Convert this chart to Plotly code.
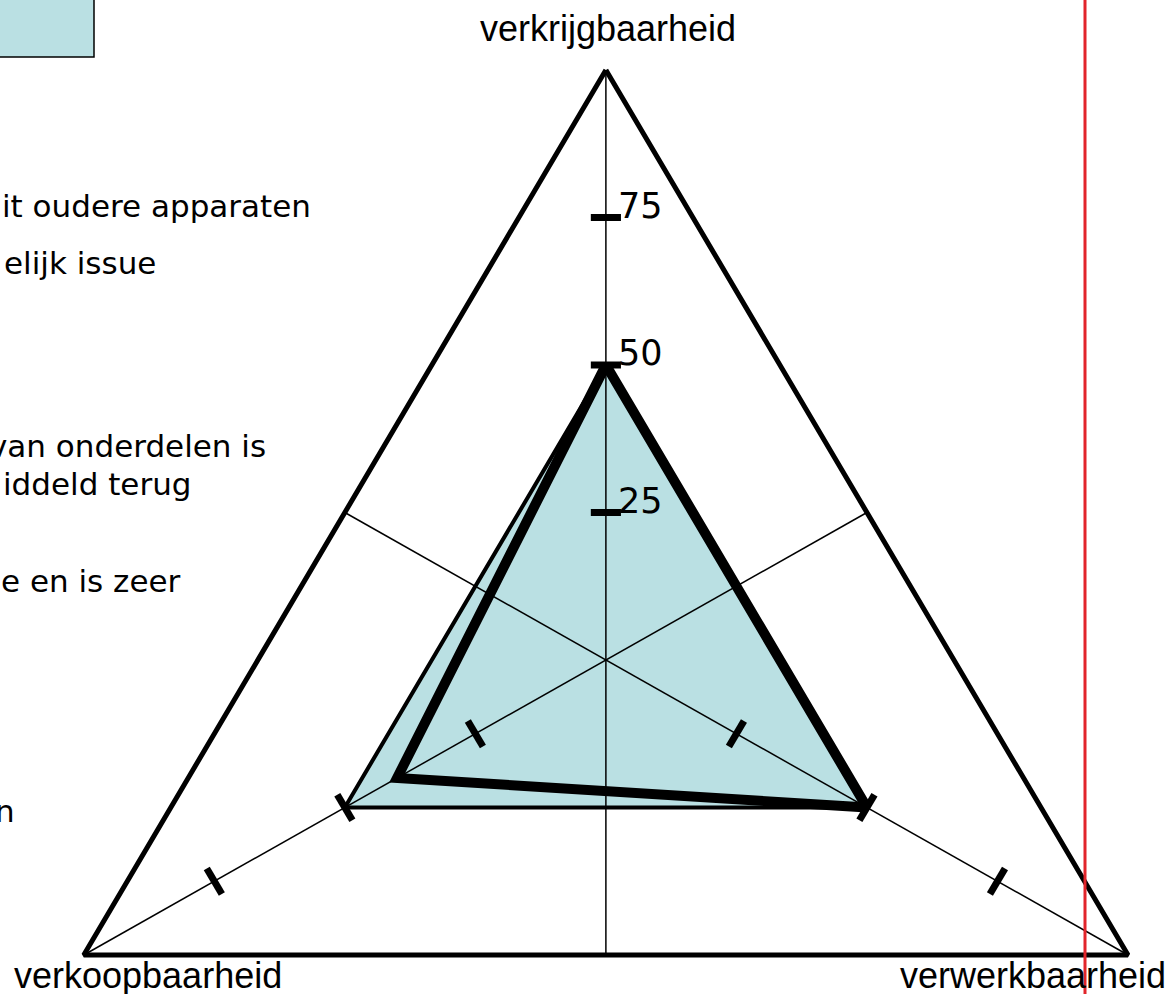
import numpy as np
import plotly.graph_objects as go

# three axes of the triangle chart, clockwise from the top
axis_names = ["verkrijgbaarheid", "verwerkbaarheid", "verkoopbaarheid"]
axis_angles = [90, 330, 210]
axis_max = 100
tick_values = [25, 50, 75]
tick_labels = ["25", "50", "75"]

# the two profiles
shaded_values = [50, 50, 50]
line_values = [50, 50, 40]

# cut-off slide text at the left edge
side_texts = ["it oudere apparaten", "elijk issue", "van onderdelen is",
              "iddeld terug", "e en is zeer", "n"]

FILL = "#BAE0E3"
RED = "#E2252B"
W, H = 1175, 994


def to_xy(r, deg):
    r = np.asarray(r, dtype=float)
    a = np.radians(np.asarray(deg, dtype=float))
    return r * np.cos(a), r * np.sin(a)


def closed(vals):
    return list(vals) + [vals[0]]


fig = go.Figure()

# shaded profile
x, y = to_xy(closed(shaded_values), closed(axis_angles))
fig.add_trace(go.Scatter(x=x, y=y, mode="lines", fill="toself", fillcolor=FILL,
                         line=dict(color="black", width=4)))

# spokes: from each corner through the centre to the opposite side
sx, sy = [], []
for a in axis_angles:
    x0, y0 = to_xy(axis_max, a)
    x1, y1 = to_xy(axis_max / 2, a + 180)
    sx += [x0, x1, None]
    sy += [y0, y1, None]
fig.add_trace(go.Scatter(x=sx, y=sy, mode="lines", line=dict(color="black", width=1.5)))

# tick bars on every spoke
tx, ty = [], []
half = 2.5
for a in axis_angles:
    px, py = -np.sin(np.radians(a)), np.cos(np.radians(a))
    for t in tick_values:
        cx, cy = to_xy(t, a)
        tx += [cx - half * px, cx + half * px, None]
        ty += [cy - half * py, cy + half * py, None]
fig.add_trace(go.Scatter(x=tx, y=ty, mode="lines", line=dict(color="black", width=7)))

# outer triangle
x, y = to_xy([axis_max] * 4, closed(axis_angles))
fig.add_trace(go.Scatter(x=x, y=y, mode="lines", line=dict(color="black", width=5)))

# thick profile line
x, y = to_xy(closed(line_values), closed(axis_angles))
fig.add_trace(go.Scatter(x=x, y=y, mode="lines", line=dict(color="black", width=10)))

ann = []
# tick labels on the top axis
for t, lab in zip(tick_values, tick_labels):
    cx, cy = to_xy(t, axis_angles[0])
    ann.append(dict(x=float(cx), y=float(cy), text=lab, showarrow=False,
                    xanchor="left", yanchor="middle", xshift=10, yshift=12,
                    font=dict(family="DejaVu Sans", size=35, color="black")))

# axis names at the corners
name_pos = [dict(xanchor="center", yanchor="middle", xshift=2, yshift=42),
            dict(xanchor="right", yanchor="middle", xshift=40, yshift=-20),
            dict(xanchor="left", yanchor="middle", xshift=-72, yshift=-20)]
for name, a, p in zip(axis_names, axis_angles, name_pos):
    cx, cy = to_xy(axis_max, a)
    ann.append(dict(x=float(cx), y=float(cy), text=name, showarrow=False,
                    font=dict(family="Liberation Sans", size=36, color="black"), **p))

# left side text, right edges and line centres in pixels
side_right = [313, 158, 268, 193, 183, 17]
side_mid = [206, 263, 446, 484, 581, 811]
for txt, xr, ym in zip(side_texts, side_right, side_mid):
    ann.append(dict(xref="paper", yref="paper", x=xr / W, y=1 - ym / H, text=txt,
                    showarrow=False, xanchor="right", yanchor="middle",
                    font=dict(family="DejaVu Sans", size=31, color="black")))

shapes = [
    dict(type="rect", xref="paper", yref="paper", x0=-0.01, x1=94 / W,
         y0=1 - 57 / H, y1=1.01, fillcolor=FILL, line=dict(color="black", width=1.5),
         layer="above"),
    dict(type="line", xref="paper", yref="paper", x0=1085 / W, x1=1085 / W,
         y0=0, y1=1, line=dict(color=RED, width=3), layer="above"),
]

# y range: centre at 660 px, 5.9 px per unit
fig.update_layout(
    width=W, height=H,
    margin=dict(l=0, r=0, t=0, b=0),
    paper_bgcolor="white", plot_bgcolor="white",
    showlegend=False,
    xaxis=dict(range=[-100.5, 94.4], visible=False, fixedrange=True),
    yaxis=dict(range=[-(H - 660) / 5.9, 660 / 5.9], visible=False, fixedrange=True),
    annotations=ann,
    shapes=shapes,
)

fig.write_html("out.html", config={"displayModeBar": False},
               post_script="document.body.style.margin='0';")
